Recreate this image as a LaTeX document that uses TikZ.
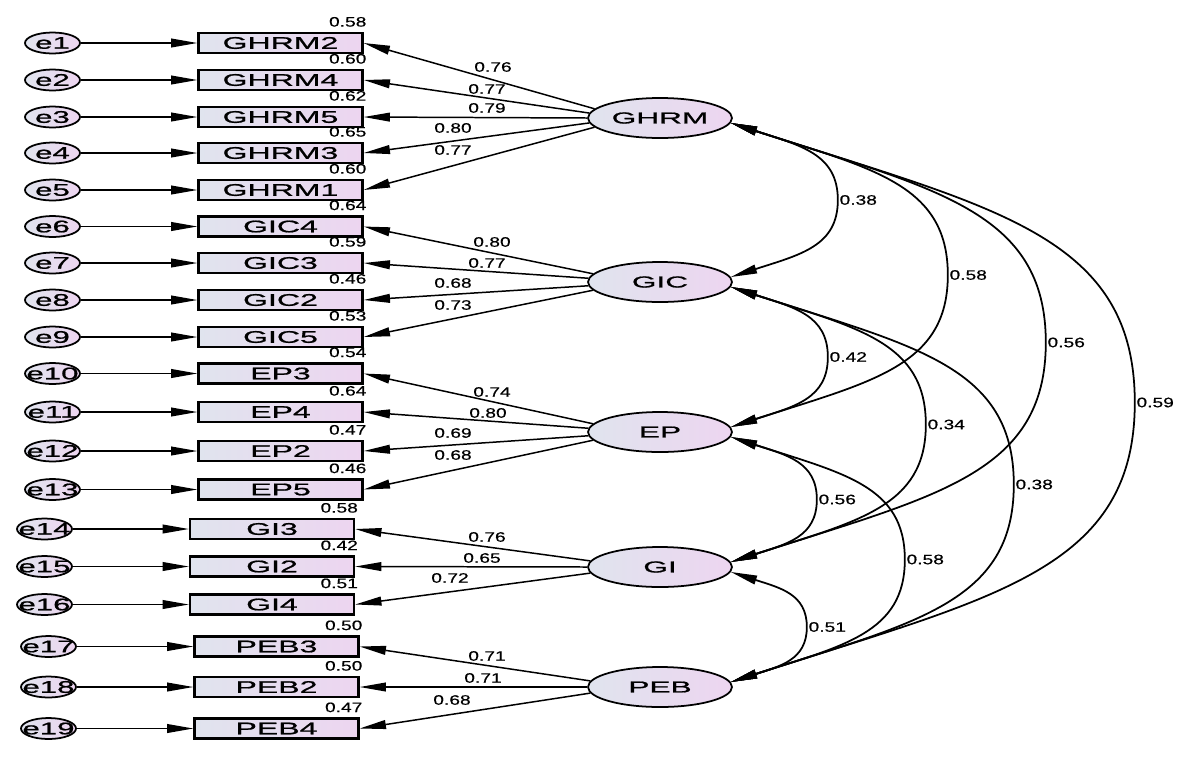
\documentclass[tikz,border=0pt]{standalone}
\usepackage{fontspec}
\setmainfont{Liberation Sans}
\newfontfamily\numf[FakeStretch=1.4,FakeBold=0.5]{Liberation Sans}
\newfontfamily\boxf[FakeStretch=1.9,FakeBold=1]{Liberation Sans}
\newfontfamily\latf[FakeStretch=2.0,FakeBold=1]{Liberation Sans}
\newfontfamily\errf[FakeStretch=1.85,FakeBold=1]{Liberation Sans}
\usetikzlibrary{arrows.meta,calc,shapes.geometric}
\definecolor{fillL}{HTML}{E0E4EE}
\definecolor{fillR}{HTML}{EDD5F0}
\tikzset{
  obs/.style={draw, line width=1.3pt, minimum width=3.28cm, minimum height=0.4cm, inner sep=0pt,
    left color=fillL, right color=fillR, font=\boxf\fontsize{9.6pt}{11pt}\selectfont},
  lat/.style={ellipse, draw, line width=1pt, minimum width=2.88cm, minimum height=0.8cm, inner sep=0pt,
    left color=fillL, right color=fillR, font=\latf\fontsize{9pt}{10pt}\selectfont},
  err/.style={ellipse, draw, line width=1pt, minimum width=1.1cm, minimum height=0.42cm, inner sep=0pt,
    left color=fillL, right color=fillR},
  errtxt/.style={inner sep=0pt, font=\errf\fontsize{9.6pt}{10pt}\selectfont},
  num/.style={inner sep=0.5pt, font=\numf\fontsize{7.8pt}{8pt}\selectfont},
  arr/.style={-{Triangle[length=15pt,width=5pt]}, line width=0.85pt},
  cov/.style={{Triangle[length=15pt,width=5pt]}-{Triangle[length=15pt,width=5pt]}, line width=1pt}
}
\newcommand\covarc[5]{%
  \draw[cov] let \p1=(#1.-4), \p2=(#2.4), \n1={#3*0.569055pt}, \n2={(\y1+\y2)/2},
      \n3={\n1-\x1}, \n4={(\y1-\y2)/2} in
    (\p1) .. controls (\x1+0.65*\n3, \y1-0.21*\n3) and (\n1, \n2+0.6*\n4) .. (\n1,\n2)
    node[num, anchor=west] (#5) {#4}
    .. controls (\n1, \n2-0.6*\n4) and (\x2+0.65*\n3, \y2+0.21*\n3) .. (\p2);
}
\begin{document}
\begin{tikzpicture}[x=0.02cm, y=-0.02cm]
\fill[white] (0,0) rectangle (1200,765);
\useasboundingbox (0,0) rectangle (1200,765);
% latent variables
\node[lat] (GHRM) at (660,118) {GHRM};
\node[lat] (GIC) at (660,282) {GIC};
\node[lat] (EP) at (660,432) {EP};
\node[lat] (GI) at (660,567) {GI};
\node[lat] (PEB) at (660,687) {PEB};
% observed variables with errors
\foreach \n/\y/\xc/\ex/\r [count=\i] in {
  GHRM2/43/280.5/52.5/0.58, GHRM4/80/280.5/52.5/0.60, GHRM5/117/280.5/52.5/0.62,
  GHRM3/153/280.5/52.5/0.65, GHRM1/190/280.5/52.5/0.60,
  GIC4/226.5/280.5/52.5/0.64, GIC3/263/280.5/52.5/0.59, GIC2/300/280.5/52.5/0.46,
  GIC5/337/280.5/52.5/0.53,
  EP3/373.5/280.5/52.5/0.54, EP4/412/280.5/52.5/0.64, EP2/451/280.5/52.5/0.47,
  EP5/489.5/280.5/52.5/0.46,
  GI3/529/272/44.5/0.58, GI2/566.5/272/44.5/0.42, GI4/604.5/272/44.5/0.51,
  PEB3/646.5/276.5/48.5/0.50, PEB2/687/276.5/48.5/0.50, PEB4/728.5/276.5/48.5/0.47} {
  \node[obs] (\n) at (\xc,\y) {\n};
  \node[err, label={[errtxt]center:e\i}] (e\i) at (\ex,\y) {};
  \draw[arr] (e\i) -- (\n);
  \node[num, anchor=east] (r\i) at ($(\n.north east)+(4,-10)$) {\r};
}
% loadings
\foreach \l/\b/\a/\v/\x/\y [count=\i] in {
  GHRM/GHRM2/172/0.76/493/67, GHRM/GHRM4/176/0.77/487/89, GHRM/GHRM5/180/0.79/487/108,
  GHRM/GHRM3/184/0.80/453/128, GHRM/GHRM1/188/0.77/453/150,
  GIC/GIC4/173/0.80/492/242, GIC/GIC3/177/0.77/487/263, GIC/GIC2/183/0.68/453/283,
  GIC/GIC5/187/0.73/453/305,
  EP/EP3/173/0.74/492/392, EP/EP4/177/0.80/488/413, EP/EP2/183/0.69/453/433,
  EP/EP5/187/0.68/453/455,
  GI/GI3/175/0.76/487/537, GI/GI2/180/0.65/482/558, GI/GI4/185/0.72/450/578,
  PEB/PEB3/175/0.71/487/656, PEB/PEB2/180/0.71/483/678, PEB/PEB4/185/0.68/452/700} {
  \draw[arr] (\l.\a) -- (\b.east);
  \node[num] (l\i) at (\x,\y) {\v};
}
% covariances
\covarc{GHRM}{GIC}{838}{0.38}{c1}
\covarc{GHRM}{EP}{948}{0.58}{c2}
\covarc{GHRM}{GI}{1046}{0.56}{c3}
\covarc{GHRM}{PEB}{1135}{0.59}{c4}
\covarc{GIC}{EP}{828}{0.42}{c5}
\covarc{GIC}{GI}{926}{0.34}{c6}
\covarc{GIC}{PEB}{1014}{0.38}{c7}
\covarc{EP}{GI}{817}{0.56}{c8}
\covarc{EP}{PEB}{905}{0.58}{c9}
\covarc{GI}{PEB}{807}{0.51}{c10}
\end{tikzpicture}
\end{document}
